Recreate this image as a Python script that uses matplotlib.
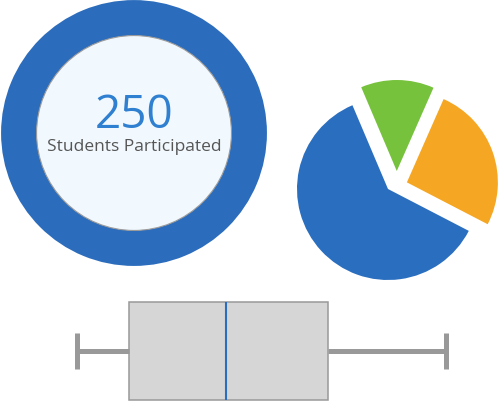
import numpy as np
import matplotlib.pyplot as plt
from matplotlib.patches import Circle

# donut : nombre de participants
participants = 250
label_participants = "Students Participated"

# camembert
parts = [61, 26, 13]
couleurs_parts = ['#2a6ebf', '#f5a623', '#77c23d']
explode = [0, 0.22, 0.22]

# boite a moustaches (min, q1, mediane, q3, max)
bmin, q1, med, q3, bmax = 0, 14, 40.4, 68, 100

W, H = 498, 402
fig = plt.figure(figsize=(W / 100, H / 100), dpi=100)
plt.rcParams['font.family'] = ['Open Sans', 'DejaVu Sans']


def axe_px(x0, y0, w, h):
    # position en pixels (origine en haut a gauche)
    return fig.add_axes([x0 / W, (H - y0 - h) / H, w / W, h / H])


# --- donut ---
ax1 = axe_px(0, 0, 268, 268)
ax1.pie([participants], colors=['#2b6cbc'], radius=1,
        wedgeprops=dict(width=0.267, linewidth=0))
ax1.add_patch(Circle((0, 0), 0.733, facecolor='#f2f9fe', edgecolor='#9a9a9a', lw=0.8))
ax1.text(0, 0.043, str(participants), ha='center', va='baseline', fontsize=33, color='#2f80d0')
ax1.text(0, -0.126, label_participants, ha='center', va='baseline', fontsize=12.5, color='#555555')
ax1.set_xlim(-1.008, 1.008)
ax1.set_ylim(-1.008, 1.008)
ax1.set_aspect('equal')
ax1.axis('off')

# --- camembert ---
r = 91
ax2 = axe_px(388 - 1.3 * r, 190 - 1.3 * r, 2.6 * r, 2.6 * r)
wedges, _ = ax2.pie(parts, colors=couleurs_parts, explode=explode, startangle=113,
                    counterclock=True, wedgeprops=dict(linewidth=0))
# la part verte est decalee le long du bord de la part orange
a = np.deg2rad(64)
wedges[2].set_center((explode[2] * np.cos(a), explode[2] * np.sin(a)))
ax2.set_xlim(-1.3, 1.3)
ax2.set_ylim(-1.3, 1.3)
ax2.set_aspect('equal')
ax2.axis('off')

# --- boite a moustaches ---
ax3 = axe_px(0, 290, 498, 112)
px = (446 - 77) / (bmax - bmin)
ax3.bxp([dict(med=med, q1=q1, q3=q3, whislo=bmin, whishi=bmax, fliers=[])],
        positions=[0], vert=False, widths=0.98, capwidths=0.36,
        patch_artist=True, showfliers=False,
        boxprops=dict(facecolor='#d6d6d6', edgecolor='#999999', linewidth=1.1),
        whiskerprops=dict(color='#999999', linewidth=3.6, solid_capstyle='butt'),
        capprops=dict(color='#999999', linewidth=3.6, solid_capstyle='butt'),
        medianprops=dict(color='#2a6ebf', linewidth=1.5))
ax3.set_xlim(bmin - 77 / px, bmin + (W - 77) / px)
ax3.set_ylim(-0.505, 0.615)
ax3.axis('off')

fig.savefig('out.png', dpi=100)
